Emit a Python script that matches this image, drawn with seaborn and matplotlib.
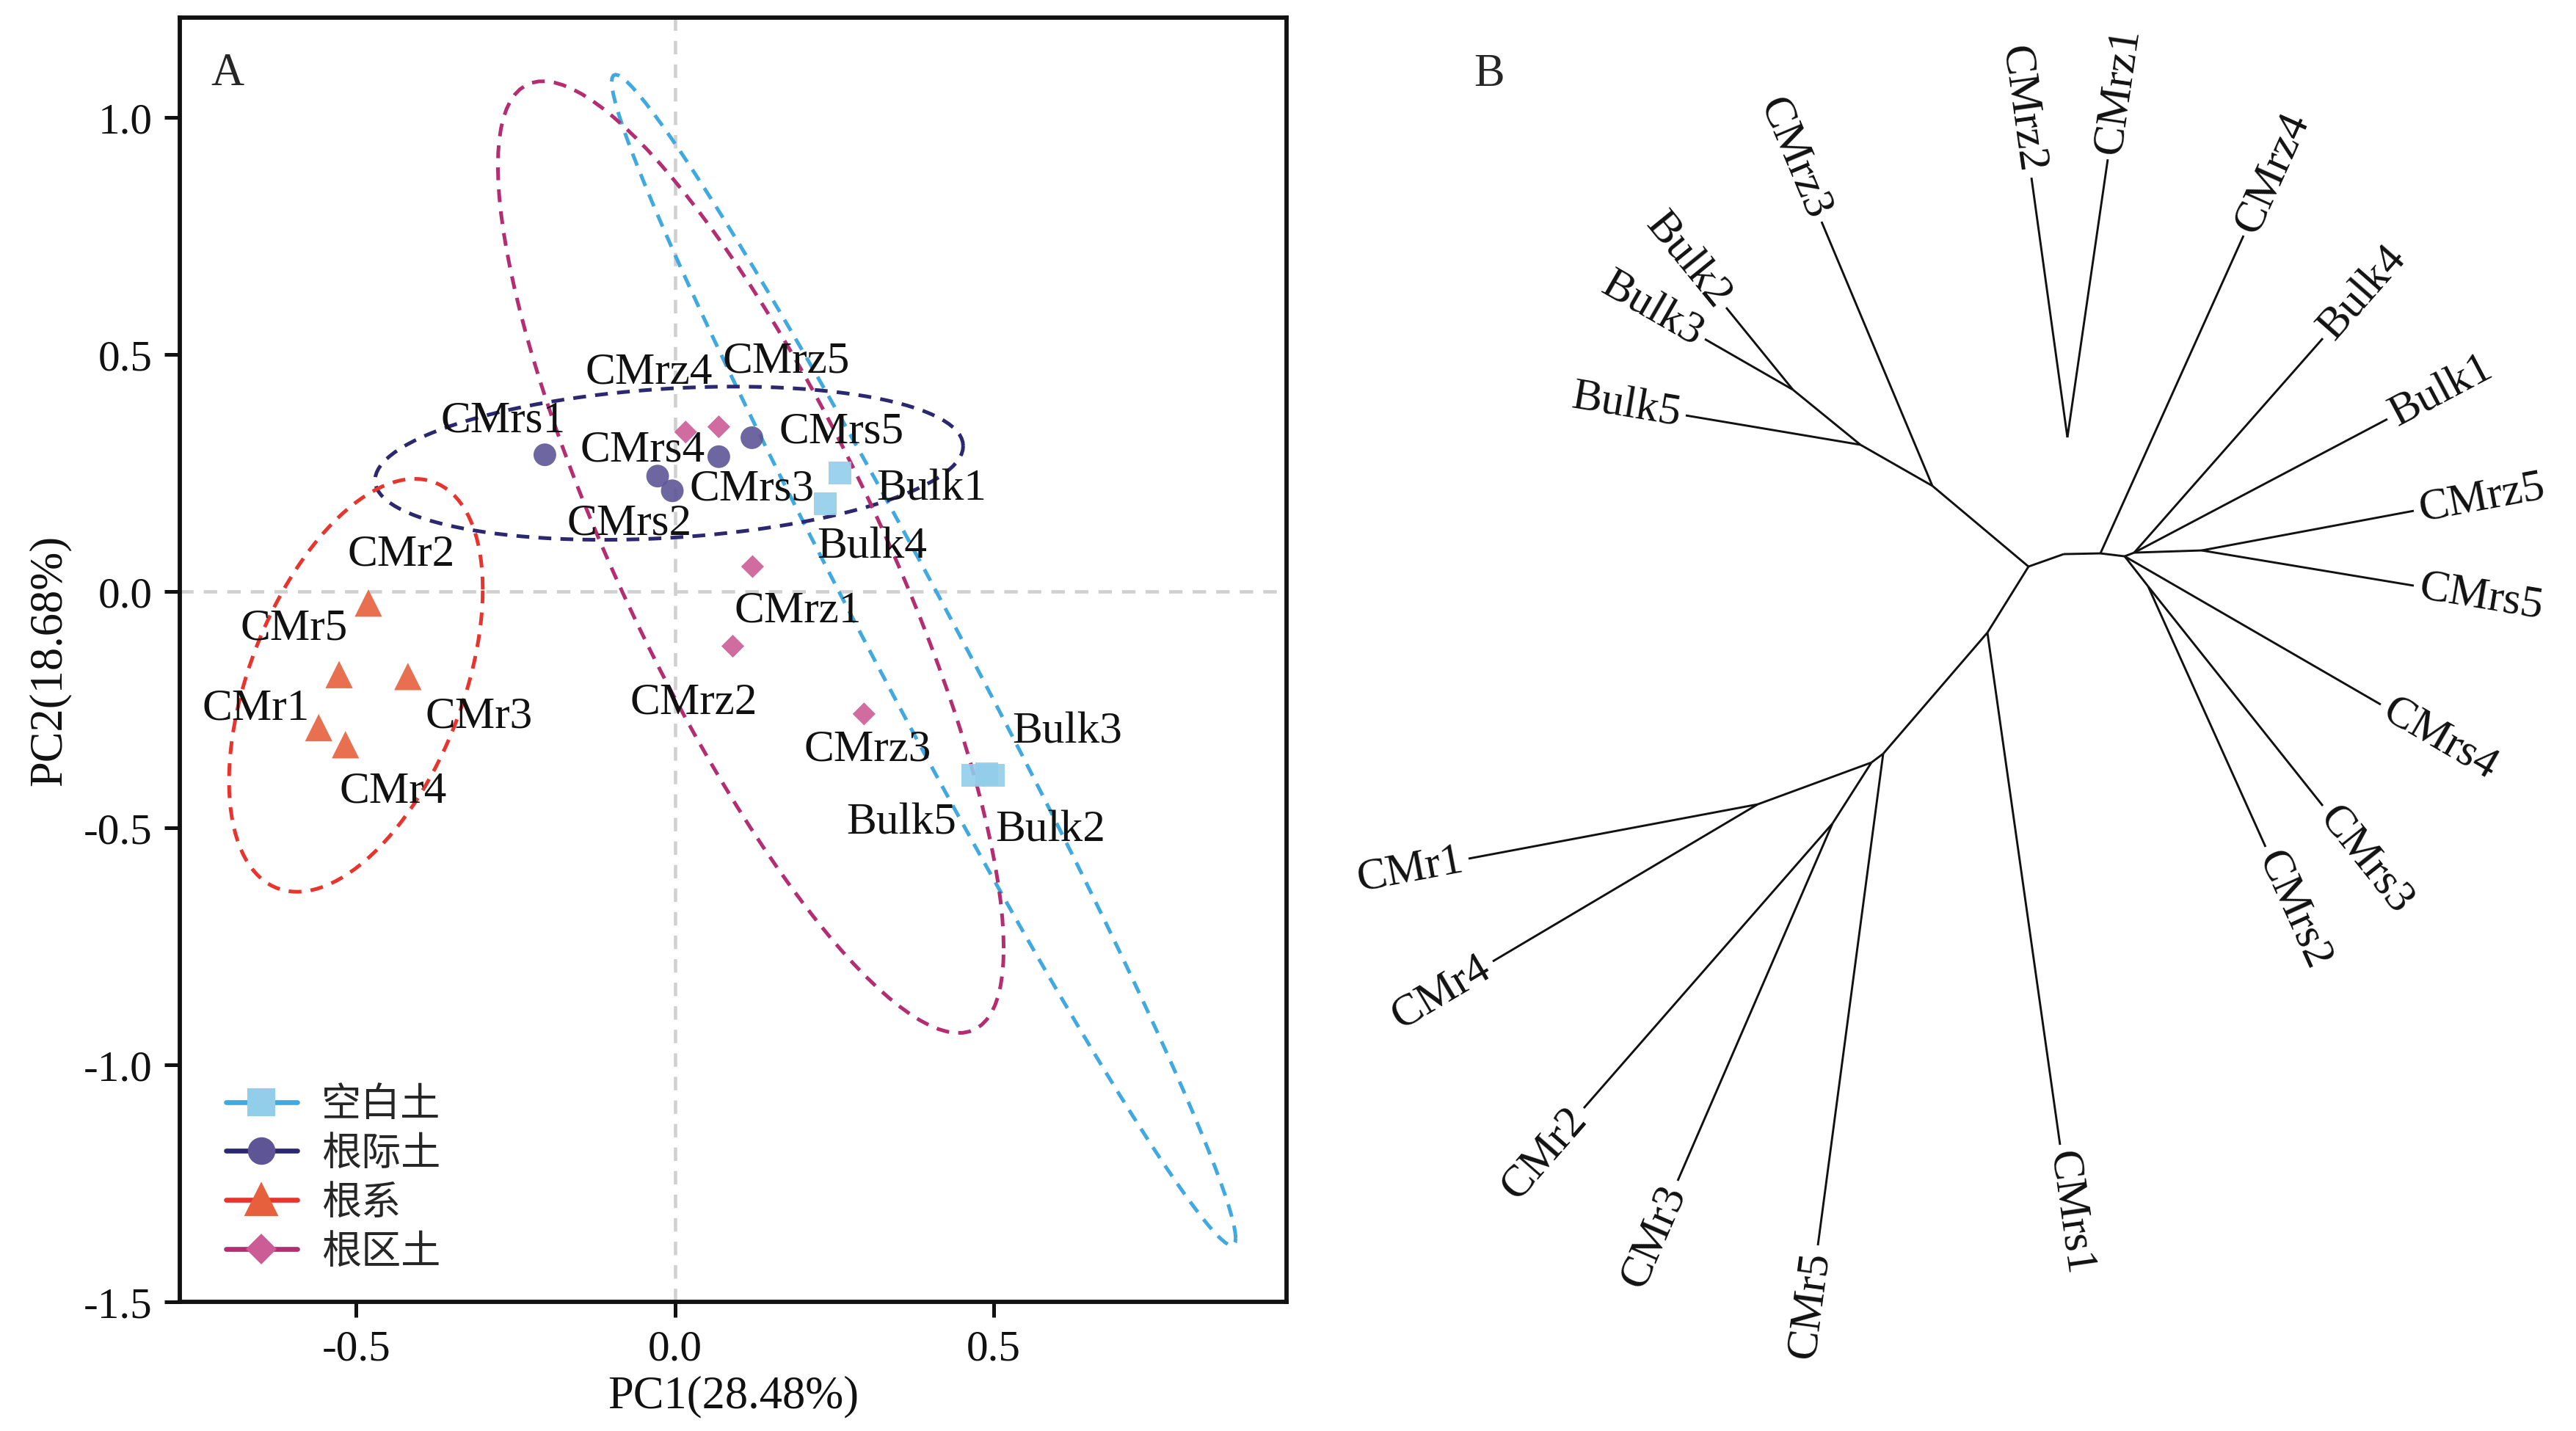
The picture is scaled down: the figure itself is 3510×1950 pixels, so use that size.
import numpy as np
import pandas as pd
import matplotlib
matplotlib.use("Agg")
import matplotlib.pyplot as plt
import seaborn as sns
from matplotlib.lines import Line2D
from matplotlib.ticker import FormatStrFormatter

# ---- PCA scores (panel A) ----
bulk_names = ['Bulk1', 'Bulk2', 'Bulk3', 'Bulk4', 'Bulk5']
bulk_pc1 = [0.259, 0.500, 0.490, 0.236, 0.468]
bulk_pc2 = [0.249, -0.388, -0.385, 0.185, -0.388]

rs_names = ['CMrs1', 'CMrs2', 'CMrs3', 'CMrs4', 'CMrs5']
rs_pc1 = [-0.204, -0.004, 0.069, -0.027, 0.121]
rs_pc2 = [0.288, 0.212, 0.284, 0.243, 0.324]

r_names = ['CMr1', 'CMr2', 'CMr3', 'CMr4', 'CMr5']
r_pc1 = [-0.559, -0.481, -0.419, -0.517, -0.527]
r_pc2 = [-0.288, -0.025, -0.180, -0.324, -0.176]

rz_names = ['CMrz1', 'CMrz2', 'CMrz3', 'CMrz4', 'CMrz5']
rz_pc1 = [0.122, 0.091, 0.297, 0.017, 0.069]
rz_pc2 = [0.052, -0.116, -0.259, 0.336, 0.347]

groups = ['空白土', '根际土', '根系', '根区土']

# ---- unrooted tree layout (panel B) ----
node_names = ['L', 'M1', 'M2', 'RD', 'RD2', 'RU', 'RU2', 'LB', 'LC', 'RA', 'RB', 'RC',
              'UL1', 'UL2', 'UL3', 'RZ',
              'CMrz3', 'Bulk2', 'Bulk3', 'Bulk5', 'CMrz2', 'CMrz1', 'CMrz4', 'Bulk4',
              'Bulk1', 'CMrz5', 'CMrs5', 'CMrs4', 'CMrs3', 'CMrs2', 'CMrs1', 'CMr5',
              'CMr3', 'CMr2', 'CMr4', 'CMr1']
node_x = [2764, 2812, 2862, 2895, 2927, 2908, 3000, 2708, 2566, 2550, 2395, 2497,
          2633, 2535, 2443, 2817,
          2482, 2352, 2323, 2297, 2768, 2872, 3057, 3165,
          3253, 3289, 3289, 3244, 3165, 3087, 2807, 2477,
          2286, 2158, 2034, 2001]
node_y = [773, 756, 755, 759, 800, 754, 751, 863, 1028, 1040, 1097, 1123,
          663, 607, 532, 597,
          303, 420, 463, 567, 243, 218, 322, 462,
          572, 697, 799, 961, 1099, 1155, 1561, 1698,
          1610, 1511, 1311, 1171]
edge_parent = ['L', 'M1', 'M2', 'RD', 'RD2', 'RD2', 'RD', 'RU', 'RU', 'RU', 'RU2', 'RU2',
               'M2', 'L', 'LB', 'LC', 'LC', 'RA', 'RA', 'RB', 'RB', 'RC', 'RC',
               'L', 'UL1', 'UL1', 'UL2', 'UL2', 'UL3', 'UL3', 'RZ', 'RZ', 'LB']
edge_child = ['M1', 'M2', 'RD', 'RD2', 'CMrs2', 'CMrs3', 'CMrs4', 'Bulk4', 'Bulk1', 'RU2',
              'CMrz5', 'CMrs5', 'CMrz4', 'LB', 'LC', 'CMr5', 'RA', 'RB', 'RC', 'CMr1',
              'CMr4', 'CMr2', 'CMr3', 'UL1', 'CMrz3', 'UL2', 'Bulk5', 'UL3', 'Bulk2',
              'Bulk3', 'CMrz2', 'CMrz1', 'CMrs1']
edge_parent.append('RD')
edge_child.append('RU')

point_colors = {'空白土': '#92CDEA', '根际土': '#5E5596', '根系': '#E6603E', '根区土': '#CC5C96'}
ellipse_colors = {'空白土': '#3FA9E0', '根际土': '#2C2870', '根系': '#E8342C', '根区土': '#B42C72'}
markers = {'空白土': 's', '根际土': 'o', '根系': '^', '根区土': 'D'}
sizes = {'空白土': 55, '根际土': 55, '根系': 80, '根区土': 28}

df = pd.DataFrame({
    'name': bulk_names + rs_names + r_names + rz_names,
    'PC1': bulk_pc1 + rs_pc1 + r_pc1 + rz_pc1,
    'PC2': bulk_pc2 + rs_pc2 + r_pc2 + rz_pc2,
    'group': [g for g in groups for _ in range(5)],
})


def t_ellipse(x, y, level=0.95, segments=121):
    # same idea as ggplot2 stat_ellipse(type = "t")
    pts = np.column_stack([x, y])
    n = len(pts)
    center = pts.mean(axis=0)
    cov = np.cov(pts, rowvar=False)
    d2 = n - 1
    fq = d2 / 2 * ((1 - level) ** (-2 / d2) - 1)  # F(2, d2) quantile, closed form
    radius = np.sqrt(2 * fq)
    theta = np.linspace(0, 2 * np.pi, segments)
    circle = np.column_stack([np.cos(theta), np.sin(theta)])
    chol = np.linalg.cholesky(cov).T
    return center + radius * circle @ chol


sns.set_theme(style='ticks')
plt.rcParams['font.family'] = ['Liberation Serif', 'Noto Sans CJK SC']
plt.rcParams['axes.unicode_minus'] = False

fig = plt.figure(figsize=(11.7, 6.503), dpi=300)

# ================= panel A =================
ax = fig.add_axes([0.0698, 0.0902, 0.4296, 0.8968])
ax.axhline(0, color='#D0D0D0', lw=1.1, ls=(0, (4, 3)), zorder=0)
ax.axvline(0, color='#D0D0D0', lw=1.1, ls=(0, (4, 3)), zorder=0)

for g in groups:
    sub = df[df['group'] == g]
    ell = t_ellipse(sub['PC1'].values, sub['PC2'].values)
    ax.plot(ell[:, 0], ell[:, 1], color=ellipse_colors[g], lw=1.2,
            ls=(0, (3.5, 2.5)), zorder=1)

sns.scatterplot(data=df, x='PC1', y='PC2', hue='group', style='group', size='group',
                palette=point_colors, markers=markers, sizes=sizes,
                edgecolor='none', alpha=0.9, legend=False, ax=ax, zorder=3)

label_offsets = {
    'Bulk1': (0.144, -0.033), 'Bulk4': (0.074, -0.091), 'Bulk3': (0.126, 0.089),
    'Bulk5': (-0.112, -0.100), 'Bulk2': (0.089, -0.116),
    'CMrs1': (-0.065, 0.073), 'CMrs4': (-0.023, 0.056), 'CMrs3': (0.052, -0.068),
    'CMrs2': (-0.067, -0.068), 'CMrs5': (0.140, 0.014),
    'CMrz4': (-0.058, 0.127), 'CMrz5': (0.106, 0.139), 'CMrz1': (0.071, -0.093),
    'CMrz2': (-0.061, -0.119), 'CMrz3': (0.006, -0.075),
    'CMr2': (0.052, 0.104), 'CMr5': (-0.071, 0.098), 'CMr3': (0.112, -0.083),
    'CMr1': (-0.099, 0.041), 'CMr4': (0.075, -0.097),
}
for _, row in df.iterrows():
    dx, dy = label_offsets[row['name']]
    ax.text(row['PC1'] + dx, row['PC2'] + dy, row['name'], ha='center', va='center',
            fontsize=14.7, color='#111111', zorder=4)

ax.set_xlim(-0.777, 0.96)
ax.set_ylim(-1.5, 1.21)
ax.set_xticks([-0.5, 0.0, 0.5])
ax.set_yticks([-1.5, -1.0, -0.5, 0.0, 0.5, 1.0])
ax.xaxis.set_major_formatter(FormatStrFormatter('%.1f'))
ax.yaxis.set_major_formatter(FormatStrFormatter('%.1f'))
ax.tick_params(direction='out', length=5, width=1.2, labelsize=14.2, colors='#111111',
               pad=4)
for sp in ax.spines.values():
    sp.set_visible(True)
    sp.set_linewidth(1.4)
    sp.set_color('#111111')
ax.set_xlabel('PC1(28.48%)', fontsize=15, labelpad=2, color='#111111')
ax.set_ylabel('PC2(18.68%)', fontsize=15, labelpad=4, color='#111111')
ax.text(0.043, 0.957, 'A', transform=ax.transAxes, ha='center', va='center', fontsize=15)

handles = [Line2D([], [], color=ellipse_colors[g], lw=1.6, marker=markers[g],
                  markerfacecolor=point_colors[g], markeredgecolor=point_colors[g],
                  markersize={'空白土': 8, '根际土': 8, '根系': 9.5, '根区土': 6}[g])
           for g in groups]
ax.legend(handles, groups, loc='lower left', bbox_to_anchor=(0.02, 0.005), frameon=False,
          fontsize=13, handlelength=1.8, handletextpad=0.6, labelspacing=0.3,
          borderaxespad=0.2)

# ================= panel B =================
axb = fig.add_axes([1760 / 3510, 0, 1 - 1760 / 3510, 1])
axb.set_xlim(1760, 3510)
axb.set_ylim(1951, 0)
axb.axis('off')

pos = {n: (x, y) for n, x, y in zip(node_names, node_x, node_y)}
for p, c in zip(edge_parent, edge_child):
    axb.plot([pos[p][0], pos[c][0]], [pos[p][1], pos[c][1]], color='#111111', lw=0.7,
             solid_capstyle='butt')

internal = {'L', 'M1', 'M2', 'RD', 'RD2', 'RU', 'RU2', 'LB', 'LC', 'RA', 'RB', 'RC',
            'UL1', 'UL2', 'UL3', 'RZ'}
for p, c in zip(edge_parent, edge_child):
    if c in internal:
        continue
    x0, y0 = pos[p]
    x1, y1 = pos[c]
    length = np.hypot(x1 - x0, y1 - y0)
    ux, uy = (x1 - x0) / length, (y1 - y0) / length
    ang = np.degrees(np.arctan2(-(y1 - y0), x1 - x0))
    if ang > 90 or ang < -90:
        rot, ha = ang + 180 if ang < -90 else ang - 180, 'right'
    else:
        rot, ha = ang, 'left'
    axb.text(x1 + 8 * ux, y1 + 8 * uy, c, rotation=rot, rotation_mode='anchor',
             ha=ha, va='center', fontsize=14.7, color='#111111')

axb.text(2029, 102, 'B', ha='center', va='center', fontsize=15)

fig.savefig('out.png', dpi=300)
